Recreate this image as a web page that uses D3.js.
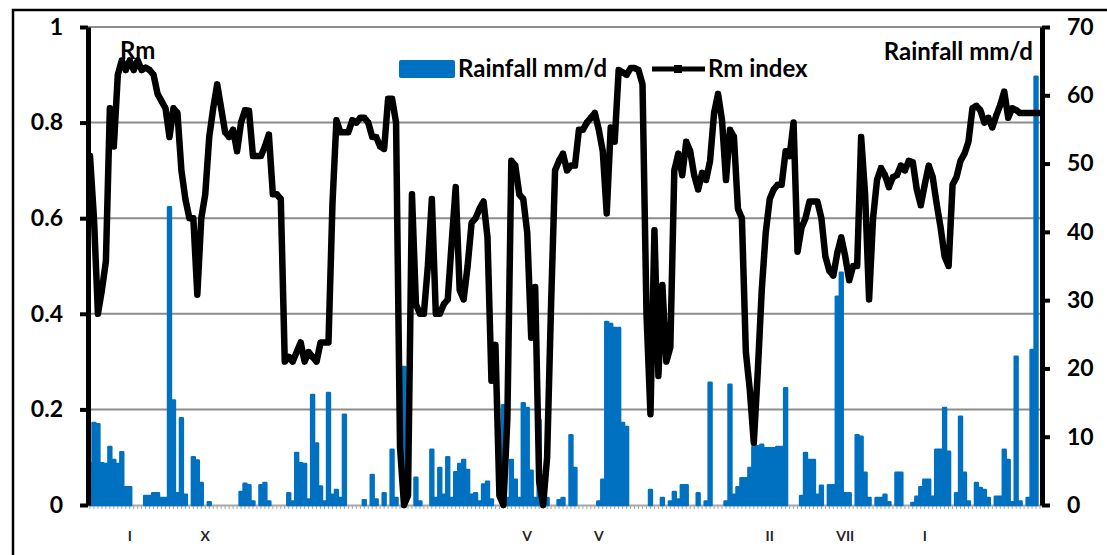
<!DOCTYPE html>
<html>
<head>
<meta charset="utf-8">
<script src="https://cdn.jsdelivr.net/npm/d3@7"></script>
<style>
  body { margin: 0; background: #fff; }
  svg text { font-family: Lato, "Open Sans", sans-serif; font-weight: bold; fill: #000; }
</style>
</head>
<body>
<div id="chart"></div>
<script>
// daily Rm index (left axis)
var rmIndex = [
  0.73,0.60,0.40,0.45,0.51,0.83,0.75,0.90,0.93,0.91,
  0.93,0.91,0.93,0.91,0.915,0.91,0.90,0.86,0.845,0.83,
  0.77,0.83,0.82,0.70,0.64,0.60,0.60,0.44,0.60,0.65,
  0.77,0.83,0.88,0.83,0.78,0.77,0.785,0.74,0.80,0.826,
  0.825,0.73,0.73,0.73,0.75,0.775,0.65,0.65,0.64,0.30,
  0.31,0.30,0.32,0.34,0.30,0.32,0.31,0.30,0.34,0.34,
  0.34,0.63,0.805,0.78,0.78,0.78,0.805,0.80,0.81,0.81,
  0.80,0.77,0.77,0.75,0.745,0.85,0.85,0.80,0.12,0.0,
  0.02,0.65,0.42,0.40,0.40,0.50,0.64,0.40,0.40,0.42,
  0.43,0.55,0.665,0.45,0.43,0.50,0.59,0.60,0.62,0.635,
  0.56,0.26,0.335,0.02,0.0,0.18,0.72,0.71,0.65,0.64,
  0.57,0.35,0.456,0.05,0.0,0.10,0.42,0.70,0.72,0.735,
  0.70,0.71,0.71,0.785,0.785,0.80,0.81,0.82,0.785,0.74,
  0.61,0.79,0.76,0.91,0.905,0.90,0.914,0.914,0.91,0.88,
  0.40,0.19,0.575,0.27,0.46,0.30,0.33,0.70,0.735,0.69,
  0.76,0.74,0.69,0.66,0.695,0.68,0.72,0.82,0.86,0.805,
  0.68,0.785,0.77,0.62,0.60,0.32,0.24,0.13,0.28,0.45,
  0.57,0.64,0.66,0.67,0.67,0.74,0.73,0.80,0.53,0.58,
  0.60,0.635,0.635,0.635,0.60,0.52,0.49,0.48,0.527,0.56,
  0.52,0.47,0.50,0.50,0.77,0.65,0.43,0.60,0.68,0.705,
  0.69,0.665,0.686,0.69,0.71,0.70,0.72,0.717,0.66,0.627,
  0.67,0.71,0.686,0.63,0.58,0.52,0.50,0.67,0.686,0.72,
  0.735,0.76,0.83,0.835,0.826,0.80,0.81,0.79,0.815,0.837,
  0.865,0.81,0.83,0.826,0.82,0.82,0.82,0.82,0.82,0.82
];
// daily rainfall mm/d (right axis)
var rainfall = [
  6.1,12.0,11.8,6.1,6.0,8.5,6.6,6.0,7.7,2.6,
  2.6,0,0,0,1.3,1.3,1.7,1.7,1.0,1.0,
  43.6,15.3,1.7,12.7,1.5,0,7.0,6.5,3.2,0,
  0.4,0,0,0,0,0,0,0,1.9,3.1,
  2.9,0.5,0,2.9,3.2,0.5,0,0,0,0,
  1.7,0.5,7.6,6.1,6.0,0.8,16.1,9.0,2.7,0.5,
  16.4,1.5,2.2,1.0,13.2,0,0,0,0,0.7,
  0,4.4,0.8,0,1.7,0,8.1,1.0,0,20.2,
  0,0,4.0,0.5,0,0,8.1,1.0,5.4,1.5,
  7.0,1.0,4.8,6.0,6.6,5.1,1.5,1.7,0.5,3.0,
  3.4,0.8,0,0,14.6,1.0,6.6,3.7,1.0,14.9,
  14.2,5.0,1.0,12.4,0,1.0,0,0,0.7,1.0,
  0,10.2,5.4,0,0,0,0,0,0.5,3.7,
  26.8,26.5,25.9,25.9,12.0,11.4,0,0,0,0,
  0,2.2,0,0,1.0,0,0.5,1.9,0.8,2.9,
  2.9,0,0,1.7,0,0.5,17.9,0,0,0,
  0.5,17.6,1.5,2.6,3.9,3.9,5.4,8.5,8.6,8.8,
  8.3,8.3,8.3,8.5,8.5,17.1,0,0,0,1.3,
  7.6,6.6,6.6,1.5,2.8,0,2.9,2.9,30.5,34.0,
  1.7,1.7,0,10.2,10.0,4.7,1.0,0,1.0,1.0,
  1.5,0.4,0,4.7,4.7,0,0,0.3,1.2,2.6,
  3.7,3.7,1.2,8.1,8.1,14.2,7.8,0,1.7,12.9,
  4.7,0.5,0,3.2,2.5,2.2,1.0,0,1.2,1.2,
  8.1,6.6,0.4,21.7,0.5,0,1.0,22.7,62.7,0
];
var rmTicks = [0, 0.2, 0.4, 0.6, 0.8, 1];
var rainTicks = [0, 10, 20, 30, 40, 50, 60, 70];
var labelDays = [11, 30, 111, 129, 172, 191, 211];
var labelTexts = ["I", "X", "V", "V", "II", "VII", "I"];

var blue = "#0070C0";
var plot = {left: 88, right: 1042, top: 27, bottom: 505};

var svg = d3.select("#chart").append("svg")
  .attr("width", 1107)
  .attr("height", 555);

var days = d3.range(1, rainfall.length + 1);
var x = d3.scaleBand().domain(days).range([plot.left, plot.right]);
var bw = x.bandwidth();
var yRm = d3.scaleLinear().domain([0, 1]).range([plot.bottom, plot.top]);
var yRain = d3.scaleLinear().domain([0, 70]).range([plot.bottom, plot.top]);

// outer frame
svg.append("rect")
  .attr("x", 13).attr("y", 10)
  .attr("width", 1300).attr("height", 700)
  .attr("fill", "none").attr("stroke", "#000").attr("stroke-width", 2.5);

// gridlines
svg.append("g").selectAll("line")
  .data(rmTicks.filter(function(t){ return t > 0; }))
  .join("line")
  .attr("x1", plot.left).attr("x2", plot.right)
  .attr("y1", function(d){ return yRm(d); })
  .attr("y2", function(d){ return yRm(d); })
  .attr("stroke", "#8c8c8c").attr("stroke-width", 2);

// category axis (dense gray hatch)
var xAxis = svg.append("g")
  .attr("transform", "translate(0," + plot.bottom + ")")
  .call(d3.axisBottom(x).tickFormat("").tickSize(4).tickSizeOuter(0));
xAxis.select(".domain").attr("stroke", "#a6a6a6").attr("stroke-width", 2);
xAxis.selectAll(".tick line").attr("stroke", "#a6a6a6").attr("stroke-width", 1);

svg.append("g").selectAll("text")
  .data(labelDays)
  .join("text")
  .attr("x", function(d){ return x(d) + bw / 2; })
  .attr("y", 541)
  .attr("text-anchor", "middle")
  .style("font-size", "14px")
  .style("fill", "#262626")
  .text(function(d, i){ return labelTexts[i]; });

// legend (under the series)
var legend = svg.append("g");
legend.append("rect")
  .attr("x", 399).attr("y", 60).attr("width", 56).attr("height", 18)
  .attr("rx", 2).attr("fill", blue);
legend.append("text").attr("x", 458).attr("y", 77)
  .style("font-size", "24px").text("Rainfall mm/d");
legend.append("line")
  .attr("x1", 652).attr("x2", 705).attr("y1", 69).attr("y2", 69)
  .attr("stroke", "#000").attr("stroke-width", 5);
legend.append("rect")
  .attr("x", 674).attr("y", 65).attr("width", 8).attr("height", 8).attr("fill", "#000");
legend.append("text").attr("x", 708).attr("y", 77)
  .style("font-size", "24px").text("Rm index");

// rainfall bars
svg.append("g").selectAll("rect")
  .data(days.filter(function(d){ return rainfall[d - 1] > 0; }))
  .join("rect")
  .attr("x", function(d){ return x(d) + bw * 0.15; })
  .attr("width", bw * 0.7)
  .attr("y", function(d){ return yRain(rainfall[d - 1]); })
  .attr("height", function(d){ return plot.bottom - yRain(rainfall[d - 1]); })
  .attr("fill", blue)
  .attr("stroke", blue)
  .attr("stroke-width", 2.6)
  .attr("stroke-linejoin", "round");

// Rm line
var line = d3.line()
  .x(function(d){ return x(d) + bw / 2; })
  .y(function(d){ return yRm(rmIndex[d - 1]); });

svg.append("path")
  .datum(days)
  .attr("d", line)
  .attr("fill", "none")
  .attr("stroke", "#000")
  .attr("stroke-width", 6.5)
  .attr("stroke-linejoin", "round")
  .attr("stroke-linecap", "round");

svg.append("g").selectAll("rect")
  .data(days)
  .join("rect")
  .attr("x", function(d){ return x(d) + bw / 2 - 2.5; })
  .attr("y", function(d){ return yRm(rmIndex[d - 1]) - 2.5; })
  .attr("width", 5).attr("height", 5)
  .attr("fill", "#000");

// axes
var fmt = d3.format("~g");
var leftAxis = svg.append("g")
  .attr("transform", "translate(" + plot.left + ",0)")
  .call(d3.axisLeft(yRm).tickValues(rmTicks).tickFormat(fmt)
    .tickSize(8).tickSizeOuter(0).tickPadding(17));
var rightAxis = svg.append("g")
  .attr("transform", "translate(" + plot.right + ",0)")
  .call(d3.axisRight(yRain).tickValues(rainTicks)
    .tickSize(8).tickSizeOuter(0).tickPadding(17));

[leftAxis, rightAxis].forEach(function(a){
  a.select(".domain").attr("stroke", "#000").attr("stroke-width", 5);
  a.selectAll(".tick line").attr("stroke", "#000").attr("stroke-width", 4);
  a.selectAll(".tick text")
    .style("font-size", "23px")
    .style("font-family", "Lato, 'Open Sans', sans-serif")
    .style("font-weight", "bold")
    .attr("fill", "#000");
});

// axis titles inside the plot
svg.append("text").attr("x", 120).attr("y", 59)
  .style("font-size", "24px").text("Rm");
svg.append("text").attr("x", 1033).attr("y", 60)
  .attr("text-anchor", "end")
  .style("font-size", "24px").text("Rainfall mm/d");
</script>
</body>
</html>
